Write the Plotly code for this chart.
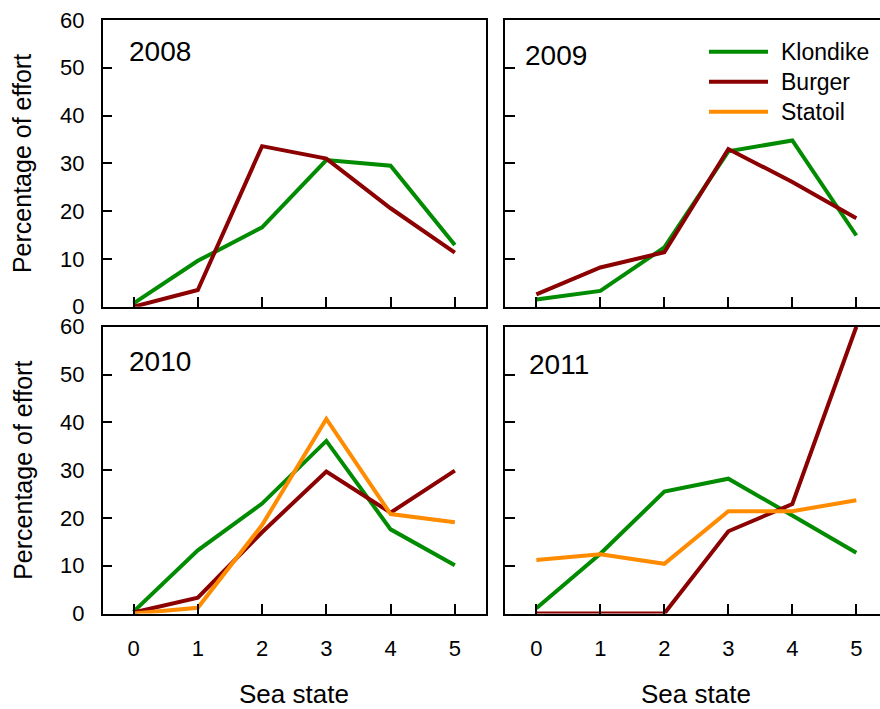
import plotly.graph_objects as go

# Sea-state categories on the x axis
sea_state = [0, 1, 2, 3, 4, 5]

# Percentage of survey effort by sea state, per year and site
years = ["2008", "2009", "2010", "2011"]

klondike_2008 = [0.7, 9.6, 16.6, 30.7, 29.5, 12.9]
burger_2008 = [0.0, 3.5, 33.6, 31.0, 20.6, 11.3]

klondike_2009 = [1.5, 3.3, 12.4, 32.5, 34.8, 14.9]
burger_2009 = [2.6, 8.2, 11.4, 33.0, 26.1, 18.5]

klondike_2010 = [0.4, 13.2, 23.0, 36.1, 17.6, 10.1]
burger_2010 = [0.2, 3.3, 17.0, 29.7, 21.1, 29.9]
statoil_2010 = [0.0, 1.2, 18.5, 40.7, 20.8, 19.1]

klondike_2011 = [1.1, 12.5, 25.5, 28.2, 20.5, 12.7]
burger_2011 = [0.0, 0.0, 0.0, 17.2, 22.9, 60.0]
statoil_2011 = [11.2, 12.4, 10.4, 21.4, 21.4, 23.7]

sites = ["Klondike", "Burger", "Statoil"]
site_colors = {"Klondike": "#008B00", "Burger": "#8B0000", "Statoil": "#FF8C00"}

panel_data = {
    "2008": {"Klondike": klondike_2008, "Burger": burger_2008},
    "2009": {"Klondike": klondike_2009, "Burger": burger_2009},
    "2010": {"Klondike": klondike_2010, "Burger": burger_2010, "Statoil": statoil_2010},
    "2011": {"Klondike": klondike_2011, "Burger": burger_2011, "Statoil": statoil_2011},
}

y_ticks = [0, 10, 20, 30, 40, 50, 60]
x_ticks = [0, 1, 2, 3, 4, 5]

W, H = 880, 709
FONT = "Liberation Sans, Arial, Helvetica, sans-serif"


def px(x):
    return x / W


def py(y):
    return 1 - y / H


# panel layout in pixels: (left, right, top, bottom)
col_px = [(102.7, 485.7), (505.0, 880.0)]
row_px = [(20.0, 306.7), (326.7, 613.5)]
col_xrange = [[-0.48, 5.48], [-0.49, 5.37]]

fig = go.Figure()
layout_axes = {}

for i, year in enumerate(years):
    r, c = divmod(i, 2)
    n = i + 1
    xa = "x" if n == 1 else f"x{n}"
    ya = "y" if n == 1 else f"y{n}"
    for site in sites:
        if site not in panel_data[year]:
            continue
        fig.add_trace(go.Scatter(
            x=sea_state, y=panel_data[year][site], mode="lines",
            line=dict(color=site_colors[site], width=4),
            name=site, showlegend=False, xaxis=xa, yaxis=ya,
            cliponaxis=False,
        ))

    left, right = col_px[c]
    top, bottom = row_px[r]
    xkey = "xaxis" if n == 1 else f"xaxis{n}"
    ykey = "yaxis" if n == 1 else f"yaxis{n}"
    layout_axes[xkey] = dict(
        domain=[px(left), px(right)], anchor=ya, range=col_xrange[c],
        tickvals=x_ticks, showticklabels=(r == 1), automargin=False,
        ticks="inside", ticklen=10, tickwidth=1.5, tickcolor="black",
        showline=True, linecolor="black", linewidth=1.5, mirror=True,
        showgrid=False, zeroline=False, ticklabelstandoff=14,
        tickfont=dict(family=FONT, size=22, color="black"),
    )
    layout_axes[ykey] = dict(
        domain=[py(bottom), py(top)], anchor=xa, range=[0, 60],
        tickvals=y_ticks, showticklabels=(c == 0), automargin=False,
        ticks="inside", ticklen=10, tickwidth=1.5, tickcolor="black",
        showline=True, linecolor="black", linewidth=1.5, mirror=(c == 0),
        showgrid=False, zeroline=False, ticklabelstandoff=12,
        tickfont=dict(family=FONT, size=22, color="black"),
    )

annotations = []
# year labels inside each panel
year_pos = {"2008": (126.7, 51.7), "2009": (523.0, 55.5),
            "2010": (126.7, 361.0), "2011": (526.7, 364.0)}
for year, (lx, ly) in year_pos.items():
    annotations.append(dict(
        text=year, x=px(lx), y=py(ly), xref="paper", yref="paper",
        xanchor="left", yanchor="middle", showarrow=False,
        font=dict(family=FONT, size=28, color="black"),
    ))

# axis titles
for top, bottom in row_px:
    annotations.append(dict(
        text="Percentage of effort", x=px(22.7), y=py((top + bottom) / 2),
        xref="paper", yref="paper", textangle=-90, showarrow=False,
        xanchor="center", yanchor="middle",
        font=dict(family=FONT, size=25, color="black"),
    ))
for cx in (294.0, 696.0):
    annotations.append(dict(
        text="Sea state", x=px(cx), y=py(694), xref="paper", yref="paper",
        showarrow=False, xanchor="center", yanchor="middle",
        font=dict(family=FONT, size=26, color="black"),
    ))

# legend: line samples and names
shapes = []
for k, site in enumerate(sites):
    ly = 51.7 + 30 * k
    shapes.append(dict(
        type="line", xref="paper", yref="paper",
        x0=px(709), x1=px(768), y0=py(ly), y1=py(ly),
        line=dict(color=site_colors[site], width=4),
    ))
    annotations.append(dict(
        text=site, x=px(779), y=py(ly), xref="paper", yref="paper",
        xanchor="left", yanchor="middle", showarrow=False,
        font=dict(family=FONT, size=23, color="black"),
    ))

fig.update_layout(
    width=W, height=H,
    margin=dict(l=0, r=0, t=0, b=0, autoexpand=False),
    paper_bgcolor="white", plot_bgcolor="white",
    annotations=annotations, shapes=shapes,
    showlegend=False,
    **layout_axes,
)

fig.write_html("out.html")
